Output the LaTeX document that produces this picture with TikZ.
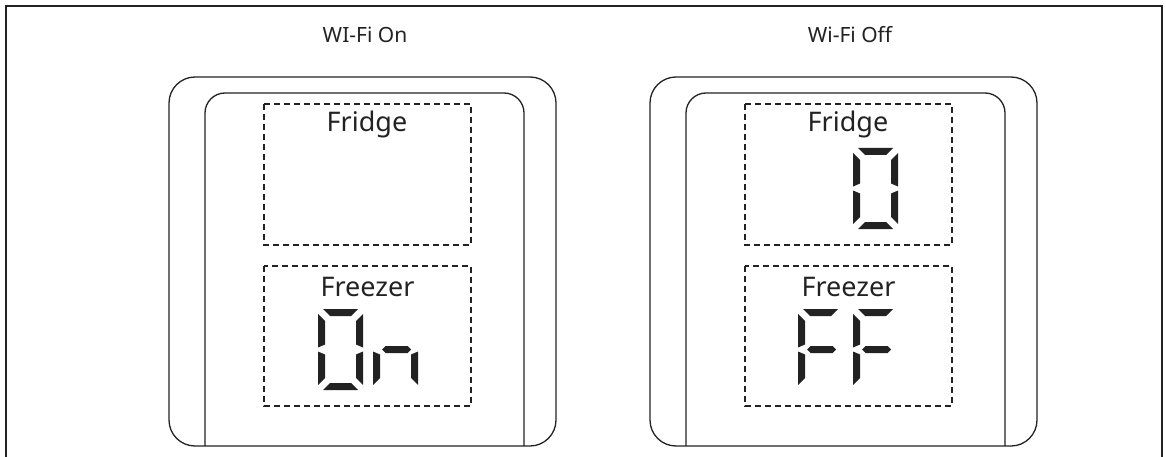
\documentclass[tikz,border=0pt]{standalone}
\usepackage{fontspec}
\setmainfont{Noto Sans}
\definecolor{ink}{HTML}{222222}
\tikzset{
  frameline/.style={draw=ink, line width=1.8pt},
  panelline/.style={draw=ink, line width=1.3pt},
  dashbox/.style={draw=ink, line width=1.2pt, dash pattern=on 6pt off 4pt},
  titletext/.style={font=\fontsize{21}{25}\selectfont, text=ink, anchor=base, inner sep=0pt},
  labeltext/.style={font=\fontsize{27}{32}\selectfont, text=ink, anchor=base, inner sep=0pt},
  segfill/.style={fill=ink},
  sega/.pic={\fill[segfill] (5,0)--(40,0)--(33,7)--(12,7)--cycle;},
  segb/.pic={\fill[segfill] (45,5)--(45,38.5)--(38,35.5)--(38,12)--cycle;},
  segc/.pic={\fill[segfill] (45,42.5)--(45,76)--(38,69)--(38,45.5)--cycle;},
  segd/.pic={\fill[segfill] (5,81)--(40,81)--(33,74)--(12,74)--cycle;},
  sege/.pic={\fill[segfill] (0,42.5)--(0,76)--(7,69)--(7,45.5)--cycle;},
  segf/.pic={\fill[segfill] (0,5)--(0,38.5)--(7,35.5)--(7,12)--cycle;},
  segg/.pic={\fill[segfill] (9,40.5)--(12.5,37)--(34.5,37)--(38,40.5)--(34.5,44)--(12.5,44)--cycle;},
  digitzero/.pic={\pic{sega};\pic{segb};\pic{segc};\pic{segd};\pic{sege};\pic{segf};},
  digitn/.pic={\pic{sege};\pic{segg};\pic{segc};},
  digitF/.pic={\pic{sega};\pic{segf};\pic{sege};\pic{segg};},
}
\begin{document}
\begin{tikzpicture}[x=1pt,y=-1pt]
\useasboundingbox (0,0) rectangle (1166,457);
% outer frame
\draw[frameline] (6,457) -- (6,6) -- (1162,6) -- (1162,457);
% panels
\foreach \o/\n in {0/L,481/R}{
  \begin{scope}[xshift=\o pt]
    \draw[panelline, rounded corners=26pt] (169,77) rectangle (556,446);
    \draw[panelline, rounded corners=20pt] (205,446) -- (205,93) -- (524,93) -- (524,446);
    \draw[dashbox] (264,104) rectangle (471,245);
    \draw[dashbox] (264,266) rectangle (471,406);
    \node[labeltext] (fridge\n) at (367,132) {Fridge};
    \node[labeltext] (freezer\n) at (367.5,296) {Freezer};
  \end{scope}
}
\node[titletext] (titleL) at (365,43) {WI-Fi On};
\node[titletext] (titleR) at (850,43) {Wi-Fi Off};
% seven-segment digits
\pic (onO) at (318,309) {digitzero};
\pic (onN) at (373,309) {digitn};
\pic (offZero) at (853,148) {digitzero};
\pic (offF1) at (798,309) {digitF};
\pic (offF2) at (853,309) {digitF};
\end{tikzpicture}
\end{document}
